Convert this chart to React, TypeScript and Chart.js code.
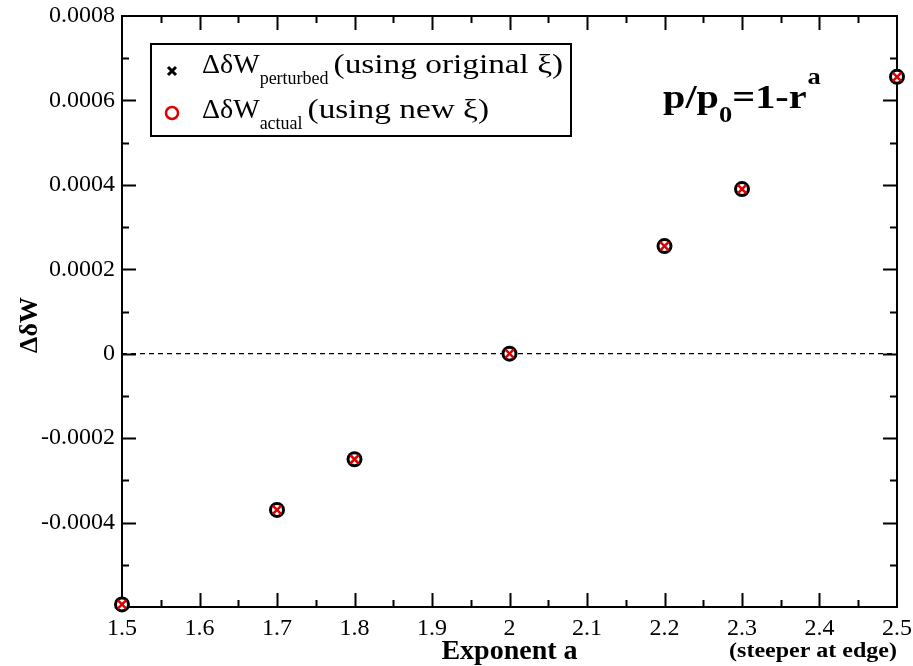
import React, { useEffect, useRef } from "react";
import { Chart, registerables } from "chart.js";

Chart.register(...registerables);

// Exponent a of the pressure profile p/p0 = 1 - r^a
const exponents = [1.5, 1.7, 1.8, 2.0, 2.2, 2.3, 2.5];
// Change in delta-W computed with the original displacement
const dWPerturbed = [-0.000594, -0.00037, -0.00025, 0.0, 0.000255, 0.00039, 0.000656];
// Change in delta-W computed with the new displacement
const dWActual = [-0.000594, -0.00037, -0.00025, 0.0, 0.000255, 0.00039, 0.000656];

const xTickValues = [1.5, 1.6, 1.7, 1.8, 1.9, 2.0, 2.1, 2.2, 2.3, 2.4, 2.5];
const yTickValues = [-0.0004, -0.0002, 0, 0.0002, 0.0004, 0.0006, 0.0008];
const xRange = [1.5, 2.5];
const yRange = [-0.0006, 0.0008];
const xMinorStep = 0.05;
const yMinorStep = 0.0001;

const SERIF = "'Liberation Serif', 'Times New Roman', serif";

function fmtX(v: number) {
  return String(Number(v.toFixed(2)));
}
function fmtY(v: number) {
  if (Math.abs(v) < 1e-12) return "0";
  return v.toFixed(4);
}

// Draws a left-aligned string with an optional horizontal stretch, returns its advance.
function text(ctx: any, s: string, x: number, y: number, font: string, sx = 1) {
  ctx.save();
  ctx.font = font;
  ctx.textAlign = "left";
  const w = ctx.measureText(s).width * sx;
  ctx.translate(x, y);
  ctx.scale(sx, 1);
  ctx.fillText(s, 0, 0);
  ctx.restore();
  return w;
}

const framePlugin = {
  id: "frameTicks",
  beforeDraw(chart: any) {
    const { ctx, width, height } = chart;
    ctx.save();
    ctx.fillStyle = "#fff";
    ctx.fillRect(0, 0, width, height);
    ctx.restore();
  },
  beforeDatasetsDraw(chart: any) {
    const { ctx, chartArea: a } = chart;
    const xs = chart.scales.x;
    const ys = chart.scales.y;
    ctx.save();
    ctx.strokeStyle = "#000";
    ctx.lineWidth = 2;
    ctx.strokeRect(a.left, a.top, a.right - a.left, a.bottom - a.top);
    const major = 14;
    const minor = 7;
    ctx.beginPath();
    const nx = Math.round((xRange[1] - xRange[0]) / xMinorStep);
    for (let i = 1; i < nx; i++) {
      const v = xRange[0] + i * xMinorStep;
      const px = Math.round(xs.getPixelForValue(v)) + 0.5;
      const len = i % 2 === 0 ? major : minor;
      ctx.moveTo(px, a.bottom);
      ctx.lineTo(px, a.bottom - len);
      ctx.moveTo(px, a.top);
      ctx.lineTo(px, a.top + len);
    }
    const ny = Math.round((yRange[1] - yRange[0]) / yMinorStep);
    for (let i = 1; i < ny; i++) {
      const v = yRange[0] + i * yMinorStep;
      const py = Math.round(ys.getPixelForValue(v)) + 0.5;
      const len = i % 2 === 0 ? major : minor;
      ctx.moveTo(a.left, py);
      ctx.lineTo(a.left + len, py);
      ctx.moveTo(a.right, py);
      ctx.lineTo(a.right - len, py);
    }
    ctx.stroke();
    ctx.restore();
  },
  afterDraw(chart: any) {
    const { ctx, chartArea: a } = chart;
    ctx.save();
    ctx.fillStyle = "#000";
    ctx.textBaseline = "alphabetic";

    // axis titles
    ctx.font = `bold 28px ${SERIF}`;
    ctx.textAlign = "center";
    ctx.fillText("Exponent a", (a.left + a.right) / 2, 659);

    ctx.font = `bold 20px ${SERIF}`;
    const stretch = 1.2;
    const sw = ctx.measureText("(steeper at edge)").width * stretch;
    text(ctx, "(steeper at edge)", 897 - sw, 657, `bold 20px ${SERIF}`, stretch);

    ctx.save();
    ctx.translate(37, 325);
    ctx.rotate(-Math.PI / 2);
    ctx.font = `bold 26px ${SERIF}`;
    ctx.textAlign = "center";
    ctx.fillText("ΔδW", 0, 0);
    ctx.restore();

    // profile formula
    let x = 663;
    x += text(ctx, "p/p", x, 108, `bold 33px ${SERIF}`, 1.22);
    x += text(ctx, "0", x, 122, `bold 23px ${SERIF}`, 1.15);
    x += text(ctx, "=1-r", x, 108, `bold 33px ${SERIF}`, 1.22);
    text(ctx, "a", x + 1, 84, `bold 23px ${SERIF}`, 1.15);

    // legend box
    ctx.lineWidth = 2;
    ctx.strokeStyle = "#000";
    ctx.fillStyle = "#fff";
    ctx.fillRect(151, 44, 420, 92);
    ctx.strokeRect(151, 44, 420, 92);

    // legend symbols
    ctx.strokeStyle = "#000";
    ctx.lineWidth = 3;
    ctx.beginPath();
    ctx.moveTo(168, 67);
    ctx.lineTo(176, 75);
    ctx.moveTo(176, 67);
    ctx.lineTo(168, 75);
    ctx.stroke();
    ctx.strokeStyle = "#e00000";
    ctx.lineWidth = 2.5;
    ctx.beginPath();
    ctx.arc(172, 113, 6, 0, Math.PI * 2);
    ctx.stroke();

    ctx.fillStyle = "#000";
    const rows = [
      { main: "ΔδW", sub: "perturbed", rest: "(using original ξ)", y: 73 },
      { main: "ΔδW", sub: "actual", rest: "(using new ξ)", y: 118 },
    ];
    for (const r of rows) {
      let lx = 202;
      lx += text(ctx, r.main, lx, r.y, `28px ${SERIF}`);
      lx += text(ctx, r.sub, lx, r.y + 11, `18px ${SERIF}`);
      text(ctx, r.rest, lx + 5, r.y, `28px ${SERIF}`, 1.19);
    }
    ctx.restore();
  },
};

export default function App() {
  const ref = useRef<HTMLCanvasElement | null>(null);

  useEffect(() => {
    document.body.style.margin = "0";
    const canvas = ref.current;
    if (!canvas) return;
    const chart = new Chart(canvas, {
      type: "scatter",
      data: {
        datasets: [
          {
            label: "ΔδW perturbed (using original ξ)",
            data: exponents.map((x, i) => ({ x, y: dWPerturbed[i] })),
            pointStyle: "crossRot",
            pointRadius: 6,
            pointBorderWidth: 2.5,
            borderColor: "#e00000",
            backgroundColor: "#e00000",
            clip: false,
          } as any,
          {
            label: "ΔδW actual (using new ξ)",
            data: exponents.map((x, i) => ({ x, y: dWActual[i] })),
            pointStyle: "circle",
            pointRadius: 6.5,
            pointBorderWidth: 3,
            borderColor: "#000",
            backgroundColor: "#fff",
            clip: false,
          } as any,
          {
            type: "line",
            label: "zero",
            data: [
              { x: xRange[0], y: 0 },
              { x: xRange[1], y: 0 },
            ],
            borderColor: "#000",
            borderWidth: 1.2,
            borderDash: [5, 4],
            pointRadius: 0,
          } as any,
        ],
      },
      options: {
        animation: false,
        responsive: false,
        events: [],
        layout: { padding: { left: 0, right: 16, top: 16, bottom: 0 } },
        plugins: { legend: { display: false }, tooltip: { enabled: false } },
        scales: {
          x: {
            type: "linear",
            min: xRange[0],
            max: xRange[1],
            grid: { display: false, drawTicks: false },
            border: { display: false },
            afterBuildTicks: (s: any) => {
              s.ticks = xTickValues.map((value) => ({ value }));
            },
            afterFit: (s: any) => {
              s.height = 59;
              s.paddingLeft = 0;
              s.paddingRight = 0;
              s.paddingTop = 0;
              s.paddingBottom = 0;
            },
            ticks: {
              autoSkip: false,
              maxRotation: 0,
              padding: 7,
              color: "#000",
              font: { family: SERIF, size: 24 },
              callback: (v: any) => fmtX(Number(v)),
            },
          },
          y: {
            type: "linear",
            min: yRange[0],
            max: yRange[1],
            grid: { display: false, drawTicks: false },
            border: { display: false },
            afterBuildTicks: (s: any) => {
              s.ticks = yTickValues.map((value) => ({ value }));
            },
            afterFit: (s: any) => {
              s.width = 122;
              s.paddingLeft = 0;
              s.paddingRight = 0;
              s.paddingTop = 0;
              s.paddingBottom = 0;
            },
            ticks: {
              autoSkip: false,
              padding: 7,
              color: "#000",
              font: { family: SERIF, size: 24 },
              callback: (v: any) => fmtY(Number(v)),
            },
          },
        },
      },
      plugins: [framePlugin],
    });
    return () => chart.destroy();
  }, []);

  return (
    <div style={{ position: "fixed", left: 0, top: 0, width: 913, height: 666 }}>
      <canvas ref={ref} width={913} height={666} />
    </div>
  );
}
